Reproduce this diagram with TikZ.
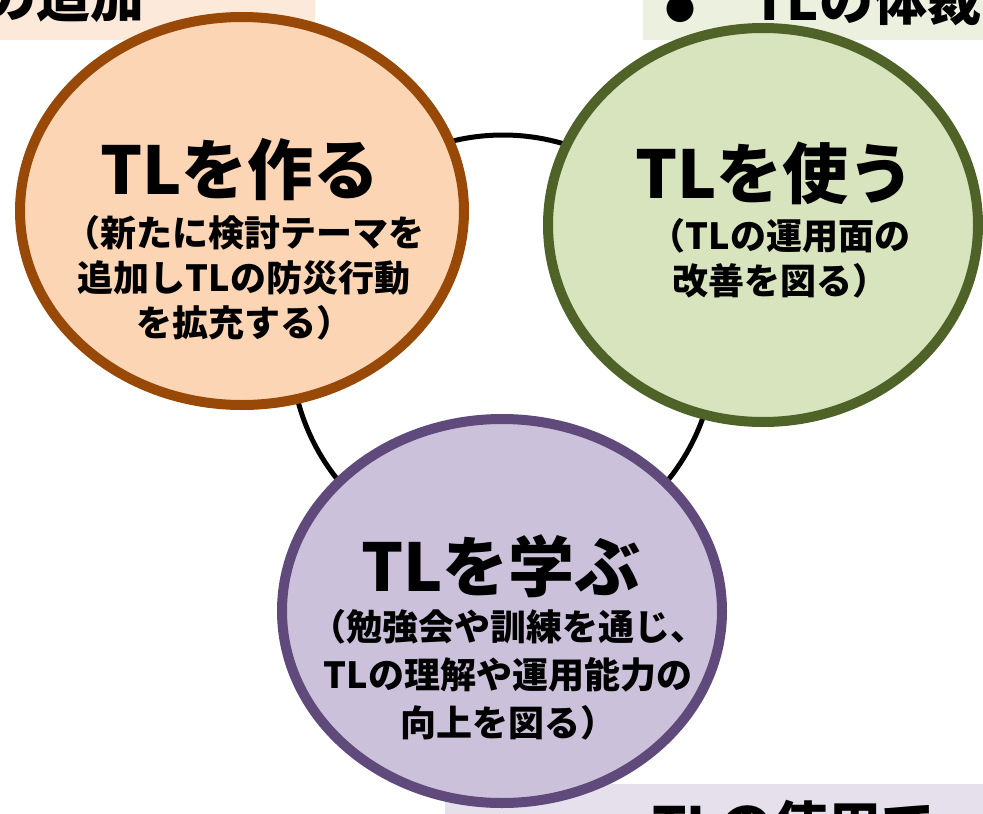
\documentclass[tikz,border=0pt]{standalone}
\usepackage{fontspec}
\setmainfont{Noto Sans CJK JP}
\usetikzlibrary{shapes.geometric}
\definecolor{peachbox}{HTML}{FDE9D9}
\definecolor{greenbox}{HTML}{EBF1DE}
\definecolor{lavbox}{HTML}{E5E0EC}
\definecolor{orangefill}{HTML}{FCD5B5}
\definecolor{orangering}{HTML}{984807}
\definecolor{greenfill}{HTML}{D7E4BD}
\definecolor{greenring}{HTML}{4F6228}
\definecolor{purplefill}{HTML}{CCC1DA}
\definecolor{purplering}{HTML}{604A7B}
\tikzset{
  bubble/.style={ellipse, draw, line width=10pt, inner sep=0pt},
  titletext/.style={font=\bfseries\fontsize{66}{70}\selectfont, inner sep=0pt},
  subtext/.style={font=\bfseries\fontsize{36}{45}\selectfont, align=center, inner sep=0pt},
  edgetext/.style={font=\bfseries\fontsize{54}{60}\selectfont, inner sep=0pt},
}
\begin{document}
\begin{tikzpicture}[x=1pt,y=-1pt]
\clip (0,0) rectangle (983,814);
% background boxes
\fill[peachbox] (0,0) rectangle (315,40);
\fill[greenbox] (643,0) rectangle (983,40);
\fill[lavbox] (445,784) rectangle (983,814);
% partial texts at the edges
\node[edgetext, anchor=base east] (tlText) at (145,17) {の追加};
\node[edgetext, anchor=base west] (trText) at (665,20) {{\fontsize{30}{30}\selectfont ●}\hspace{57pt}TLの体裁};
\node[edgetext, anchor=base west] (brText) at (652,846) {TLの使用で};
% black ring
\coordinate (ringc) at (503,347);
\draw[line width=5pt] (ringc) circle[radius=212];
% orange
\node[bubble, draw=orangering, fill=orangefill, minimum width=444pt, minimum height=388pt] (make) at (242,211) {};
\node[titletext] (makeT) at (240,170) {TLを作る};
\node[subtext] (makeS) at (244,278) {（新たに検討テーマを\\追加しTLの防災行動\\を拡充する）};
% green
\node[bubble, draw=greenring, fill=greenfill, minimum width=430pt, minimum height=394pt] (use) at (763,225) {};
\node[titletext] (useT) at (775,173) {TLを使う};
\node[subtext] (useS) at (780,258) {（TLの運用面の\\改善を図る）};
% purple
\node[bubble, draw=purplering, fill=purplefill, minimum width=440pt, minimum height=384pt] (learn) at (502,611) {};
\node[titletext] (learnT) at (501,566) {TLを学ぶ};
\node[subtext, font=\bfseries\fontsize{36}{48}\selectfont] (learnS) at (508,675) {（勉強会や訓練を通じ、\\TLの理解や運用能力の\\向上を図る）};
\end{tikzpicture}
\end{document}
